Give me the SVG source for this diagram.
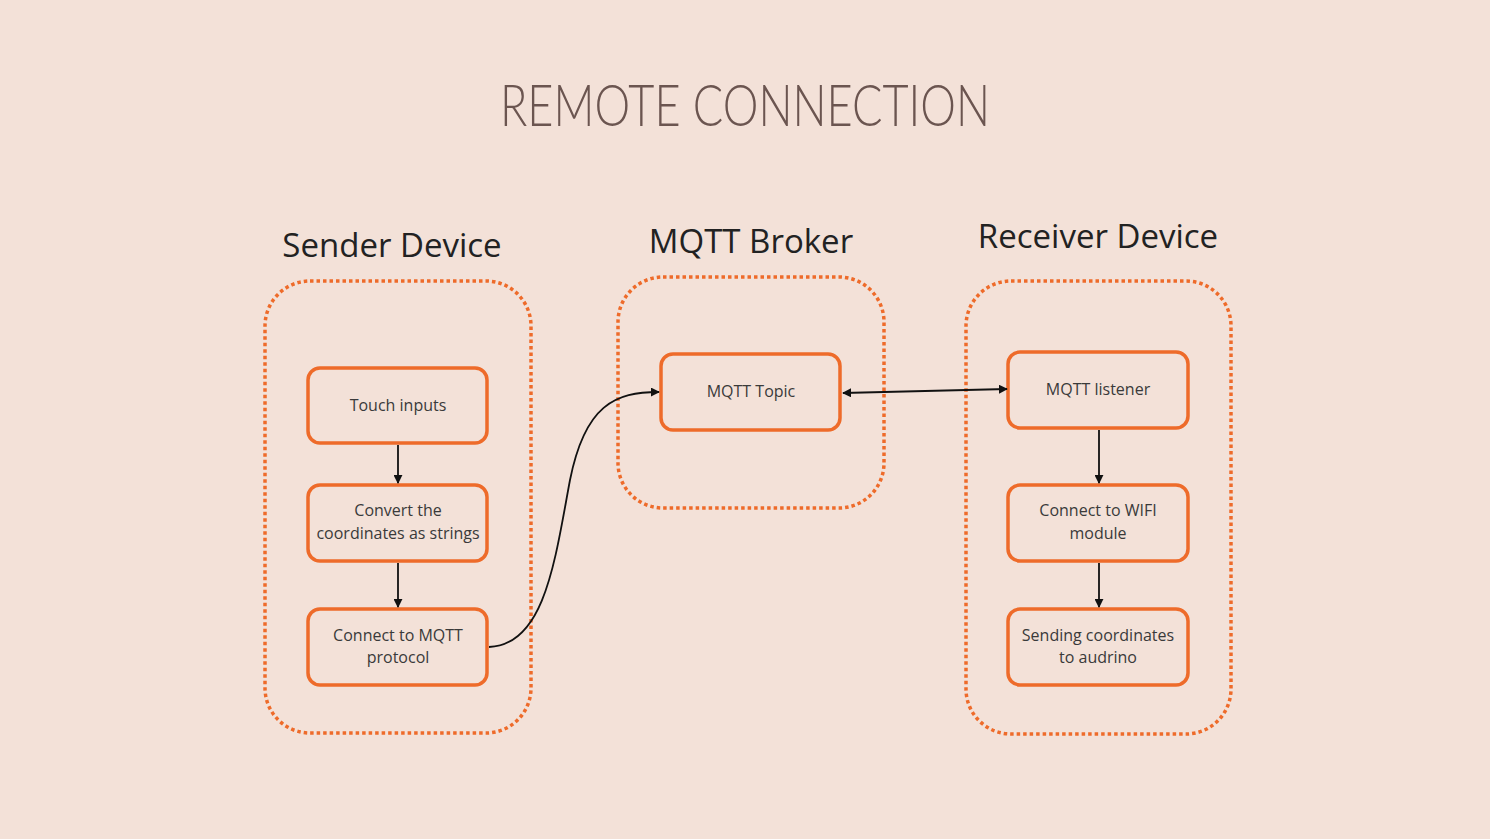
<svg xmlns="http://www.w3.org/2000/svg" width="1490" height="839" viewBox="0 0 1490 839">
<defs>
<style>
.bg{fill:#F3E1D8}
.group{fill:none;stroke:#EE6B2A;stroke-width:3.5;stroke-dasharray:3.5 3}
.box{fill:#F3E1D8;stroke:#EE6B2A;stroke-width:3.5}
.lbl{font-family:"Open Sans","Noto Sans",sans-serif;font-size:16px;fill:#3a3a3a;text-anchor:middle}
.ttl{font-family:"Open Sans","Noto Sans",sans-serif;font-size:33px;fill:#222;text-anchor:middle}
.main{font-family:"Lato","Inter",sans-serif;font-weight:300;font-size:57px;fill:#6B5550}
.conn{fill:none;stroke:#111;stroke-width:1.8}
</style>
<marker id="ah" viewBox="0 0 10 10" refX="9" refY="5" markerWidth="9" markerHeight="9" markerUnits="userSpaceOnUse" orient="auto-start-reverse">
<path d="M0,0 L10,5 L0,10 z" fill="#111"/>
</marker>
</defs>
<rect class="bg" x="0" y="0" width="1490" height="839"/>
<text class="main" x="500" y="126" textLength="490" lengthAdjust="spacingAndGlyphs">REMOTE CONNECTION</text>

<g id="sender">
<text class="ttl" x="392" y="257">Sender Device</text>
<rect class="group" x="265" y="281" width="266" height="452" rx="45"/>
</g>
<g id="broker">
<text class="ttl" x="751" y="253">MQTT Broker</text>
<rect class="group" x="618" y="277" width="266" height="231" rx="45"/>
</g>
<g id="receiver">
<text class="ttl" x="1098" y="248">Receiver Device</text>
<rect class="group" x="966" y="281" width="265" height="453" rx="45"/>
</g>

<g id="touch">
<rect class="box" x="308" y="368" width="179" height="75" rx="12"/>
<text class="lbl" x="398" y="411">Touch inputs</text>
</g>
<g id="convert">
<rect class="box" x="308" y="485" width="179" height="76" rx="12"/>
<text class="lbl" x="398" y="516">Convert the</text>
<text class="lbl" x="398" y="539">coordinates as strings</text>
</g>
<g id="connectmqtt">
<rect class="box" x="308" y="609" width="179" height="76" rx="12"/>
<text class="lbl" x="398" y="641">Connect to MQTT</text>
<text class="lbl" x="398" y="663">protocol</text>
</g>
<g id="topic">
<rect class="box" x="661" y="354" width="179" height="76" rx="12"/>
<text class="lbl" x="751" y="397">MQTT Topic</text>
</g>
<g id="listener">
<rect class="box" x="1008" y="352" width="180" height="76" rx="12"/>
<text class="lbl" x="1098" y="395">MQTT listener</text>
</g>
<g id="wifi">
<rect class="box" x="1008" y="485" width="180" height="76" rx="12"/>
<text class="lbl" x="1098" y="516">Connect to WIFI</text>
<text class="lbl" x="1098" y="539">module</text>
</g>
<g id="sending">
<rect class="box" x="1008" y="609" width="180" height="76" rx="12"/>
<text class="lbl" x="1098" y="641">Sending coordinates</text>
<text class="lbl" x="1098" y="663">to audrino</text>
</g>

<g id="connectors">
<path class="conn" d="M398,445 L398,483" marker-end="url(#ah)"/>
<path class="conn" d="M398,563 L398,607" marker-end="url(#ah)"/>
<path class="conn" d="M1099,430 L1099,483" marker-end="url(#ah)"/>
<path class="conn" d="M1099,563 L1099,607" marker-end="url(#ah)"/>
<path class="conn" d="M843,393 L1007,389" marker-start="url(#ah)" marker-end="url(#ah)"/>
<path class="conn" d="M489,647 C545,645 555,560 570,480 C585,405 615,392 659,392" marker-end="url(#ah)"/>
</g>
</svg>
